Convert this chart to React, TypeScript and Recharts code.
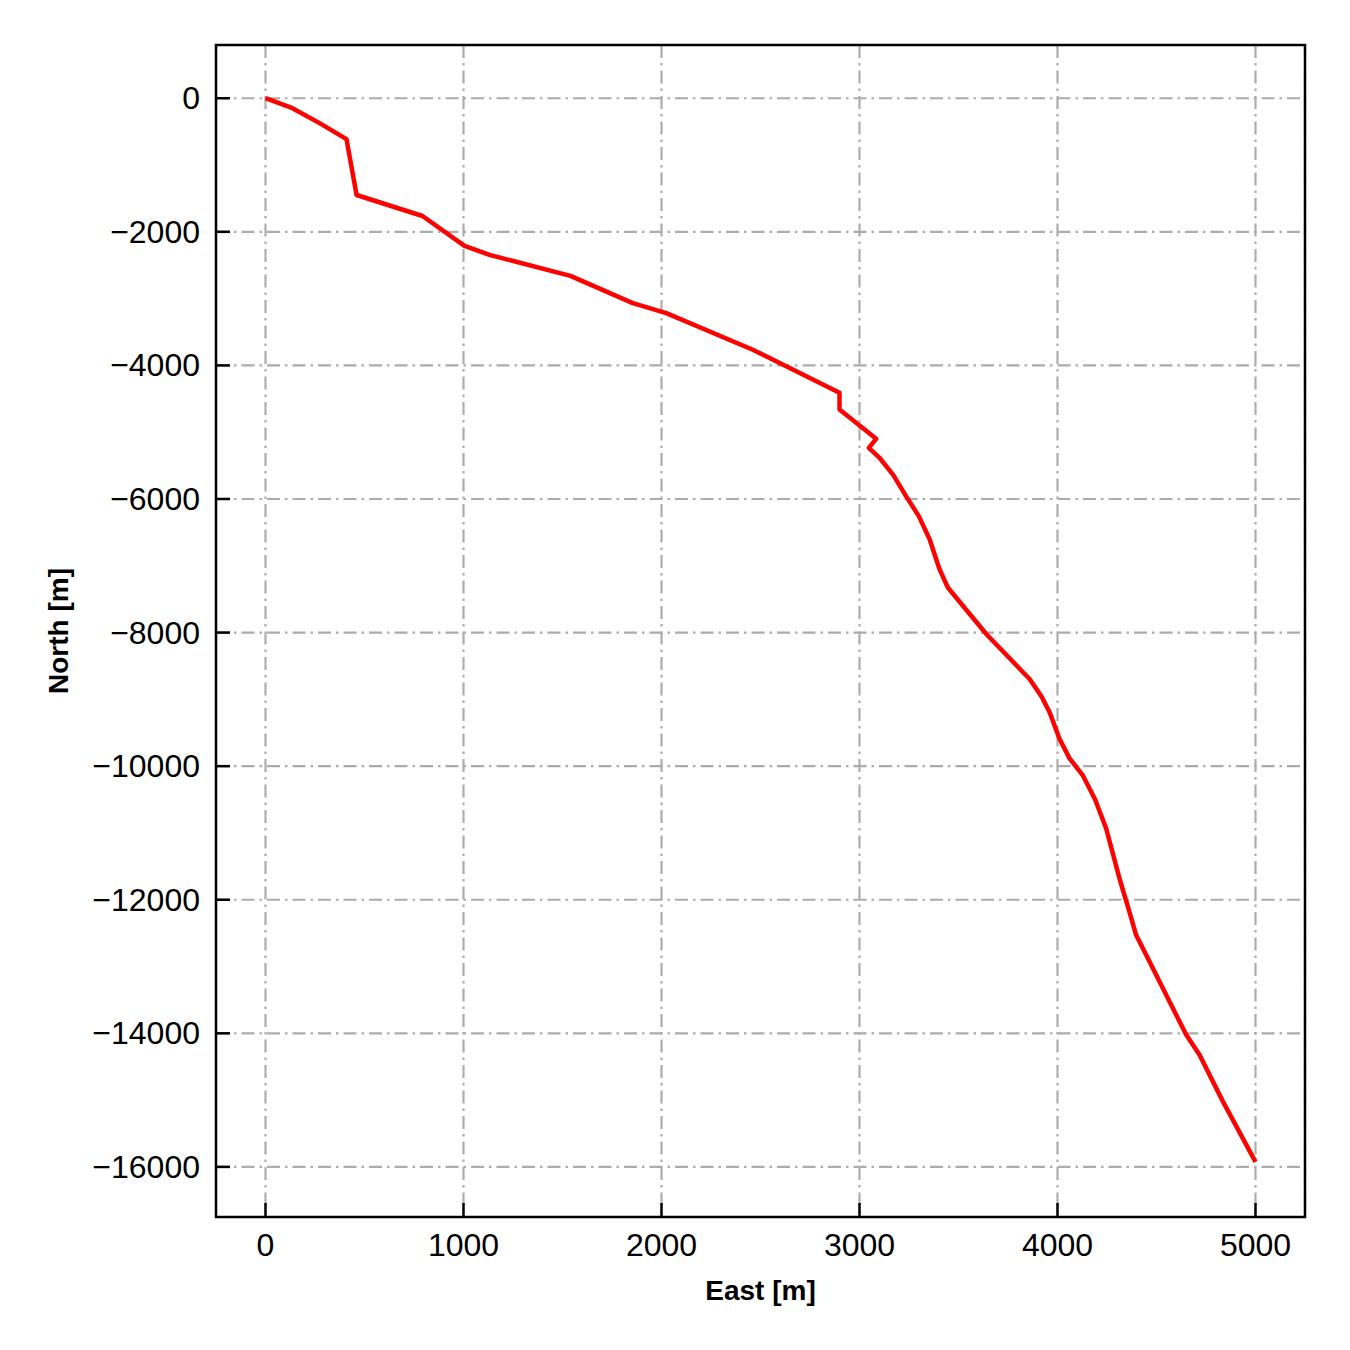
import { LineChart, Line, XAxis, YAxis, CartesianGrid, ReferenceArea, Label } from "recharts";

const eastValues = [
  0, 136, 273, 409, 460, 793, 1005, 1131, 1540, 1855, 2024, 2461, 2899, 2899, 3084, 3047, 3101,
  3170, 3235, 3300, 3354, 3404, 3446, 3640, 3859, 3920, 3960, 4010, 4060, 4128, 4190, 4246, 4313,
  4370, 4397, 4448, 4650, 4717, 4835, 5000,
];
const northValues = [
  0, -149, -373, -612, -1449, -1763, -2211, -2345, -2660, -3067, -3217, -3765, -4411, -4661, -5099,
  -5234, -5383, -5640, -5956, -6260, -6603, -7051, -7325, -8022, -8695, -8960, -9192, -9590,
  -9880, -10139, -10500, -10935, -11682, -12250, -12529, -12828, -14023, -14322, -15019, -15925,
];
const xTicks = [0, 1000, 2000, 3000, 4000, 5000];
const yTicks = [0, -2000, -4000, -6000, -8000, -10000, -12000, -14000, -16000];

const xDomain = [-250, 5250];
const yDomain = [-16750, 797];

const data = eastValues.map((east, i) => ({ east, north: northValues[i] }));

const FONT = "'Liberation Sans', Arial, sans-serif";
const fmt = (v: number) => (v < 0 ? "\u2212" + Math.abs(v) : String(v));

// labels only; inward tick marks come from tickLine with a negative tickSize
function XTick(props: any) {
  const { x, y, payload } = props;
  return (
    <text x={x} y={Number(y) + 39} textAnchor="middle" fontFamily={FONT} fontSize={32} fill="#000">
      {fmt(payload.value)}
    </text>
  );
}

function YTick(props: any) {
  const { x, y, payload } = props;
  return (
    <text x={Number(x) - 16} y={Number(y) + 11} textAnchor="end" fontFamily={FONT} fontSize={32} fill="#000">
      {fmt(payload.value)}
    </text>
  );
}

const tickLineStyle = { stroke: "#000", strokeWidth: 2.5 };

export default function App() {
  return (
    <div style={{ position: "absolute", top: 0, left: 0, background: "#fff" }}>
      <LineChart
        width={1350}
        height={1350}
        data={data}
        margin={{ top: 45, right: 45, left: 116, bottom: 43 }}
      >
        <CartesianGrid stroke="#acacac" strokeWidth={2.2} strokeDasharray="13 5 2.5 5" />
        <XAxis
          dataKey="east"
          type="number"
          domain={xDomain}
          ticks={xTicks}
          height={90}
          axisLine={false}
          tickLine={tickLineStyle}
          tickSize={-14}
          tickMargin={14}
          tick={<XTick />}
        >
          <Label
            content={() => (
              <text x={760.5} y={1300} textAnchor="middle" fontFamily={FONT} fontSize={28} fontWeight="bold" fill="#000">
                East [m]
              </text>
            )}
          />
        </XAxis>
        <YAxis
          dataKey="north"
          type="number"
          domain={yDomain}
          ticks={yTicks}
          width={100}
          axisLine={false}
          tickLine={tickLineStyle}
          tickSize={-14}
          tickMargin={14}
          tick={<YTick />}
        >
          <Label
            content={() => (
              <text
                x={68}
                y={631}
                transform="rotate(-90, 68, 631)"
                textAnchor="middle"
                fontFamily={FONT}
                fontSize={28}
                fontWeight="bold"
                fill="#000"
              >
                North [m]
              </text>
            )}
          />
        </YAxis>
        <Line
          type="linear"
          dataKey="north"
          stroke="#f00"
          strokeWidth={4.5}
          strokeLinejoin="round"
          dot={false}
          isAnimationActive={false}
        />
        <ReferenceArea
          x1={xDomain[0]}
          x2={xDomain[1]}
          y1={yDomain[0]}
          y2={yDomain[1]}
          stroke="#000"
          strokeWidth={2.5}
          fill="none"
          fillOpacity={0}
        />
      </LineChart>
    </div>
  );
}
